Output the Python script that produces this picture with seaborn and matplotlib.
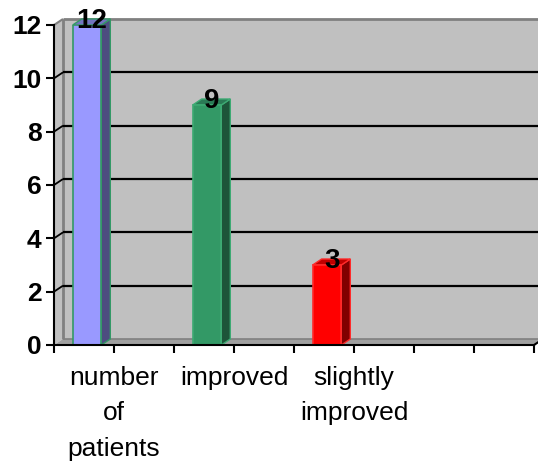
import numpy as np
import pandas as pd
import matplotlib
matplotlib.use("Agg")
import matplotlib.pyplot as plt
import matplotlib.transforms as mtransforms
from matplotlib.patches import Polygon
from matplotlib.lines import Line2D
import seaborn as sns

# --- data -------------------------------------------------------------
categories = ["number\nof\npatients", "improved", "slightly\nimproved"]
patients = [12, 9, 3]
series = ["outcome", "outcome", "outcome"]
y_ticks = [0, 2, 4, 6, 8, 10, 12]

# --- colours per bar: front, side, top, outline -------------------------
front_colors = ["#9999FF", "#339966", "#FF0000"]
side_colors = ["#4D4D80", "#1D5539", "#800000"]
top_colors = ["#7373C0", "#2A7A55", "#C00000"]
edge_colors = ["#339966", "#3DAA73", "#FF2A2A"]

WALL = "#C0C0C0"
WALL_EDGE = "#808080"
FLOOR = "#A0A0A0"
DEPTH = (9, 6)  # pixel offset of the back plane

sns.set_style("ticks")
plt.rcParams["font.family"] = ["Liberation Sans", "DejaVu Sans"]
plt.rcParams["text.color"] = "black"
plt.rcParams["xtick.color"] = "black"
plt.rcParams["ytick.color"] = "black"
plt.rcParams["xtick.labelcolor"] = "black"
plt.rcParams["ytick.labelcolor"] = "black"

fig = plt.figure(figsize=(5.38, 4.68), dpi=100)
ax = fig.add_axes([54 / 538, 123 / 468, 480 / 538, 320 / 468])
ax.set_facecolor("none")

df = pd.DataFrame({"status": categories, "patients": patients, "series": series})
sns.barplot(data=df, x="status", y="patients", hue="series",
            hue_order=["outcome", "spare"], dodge=True, width=0.9, gap=0.47,
            errorbar=None, saturation=1, legend=False, ax=ax)
bars = sorted(ax.patches, key=lambda p: p.get_x())

ax.set_xlim(-0.5, 3.5)
ax.set_ylim(0, 12)
ax.set_xlabel("")
ax.set_ylabel("")

dx, dy = DEPTH
ident = mtransforms.IdentityTransform()


def px(x, y, back=False):
    X, Y = ax.transData.transform((x, y))
    return (X + dx, Y + dy) if back else (X, Y)


def poly(pts, fc, z, ec="none", lw=0):
    ax.add_patch(Polygon(pts, closed=True, facecolor=fc, edgecolor=ec,
                         linewidth=lw, transform=ident, clip_on=False, zorder=z))


def seg(p, q, color, lw, z):
    ax.add_line(Line2D([p[0], q[0]], [p[1], q[1]], color=color, lw=lw,
                       transform=ident, clip_on=False, zorder=z,
                       solid_capstyle="butt"))


x0, x1 = -0.5, 3.5
ytop = y_ticks[-1]

# back wall, side wall and floor
poly([px(x0, 0, True), px(x1, 0, True), px(x1, ytop, True), px(x0, ytop, True)], WALL, 0.1)
poly([px(x0, 0), px(x0, ytop), px(x0, ytop, True), px(x0, 0, True)], WALL, 0.1)
poly([px(x0, 0), px(x1, 0), px(x1, 0, True), px(x0, 0, True)], FLOOR, 0.2)
seg(px(x0, 0, True), px(x1, 0, True), WALL_EDGE, 1.2, 0.3)
seg(px(x0, ytop, True), px(x1 + 0.2, ytop, True), WALL_EDGE, 2.0, 0.3)
seg(px(x0, 0, True), px(x0, ytop, True), WALL_EDGE, 2.0, 0.3)
seg(px(x0, ytop), px(x0, ytop, True), WALL_EDGE, 1.5, 0.3)
seg(px(x1, 0), px(x1, 0, True), "black", 1.5, 0.3)

# gridlines on the back wall and the side wall
for yv in y_ticks[1:-1]:
    seg(px(x0, yv, True), px(x1 + 0.2, yv, True), "black", 1.6, 0.5)
    seg(px(x0, yv), px(x0, yv, True), "black", 1.3, 0.5)

# 3-D bars: front face from seaborn, then side and top faces
for i, p in enumerate(bars):
    xl = p.get_x()
    xr = xl + p.get_width()
    h = p.get_height()
    p.set_facecolor(front_colors[i])
    p.set_edgecolor(edge_colors[i])
    p.set_linewidth(1.2)
    p.set_zorder(3)
    poly([px(xr, 0), px(xr, h), px(xr, h, True), px(xr, 0, True)],
         side_colors[i], 2.9, ec=edge_colors[i], lw=1.0)
    poly([px(xl, h), px(xr, h), px(xr, h, True), px(xl, h, True)],
         top_colors[i], 2.9, ec=edge_colors[i], lw=1.0)
    ax.annotate(f"{patients[i]}", xy=(xl + p.get_width() / 2, h),
                xytext=(5, -3), textcoords="offset pixels",
                ha="center", va="baseline", fontsize=20, fontweight="bold",
                color="black", zorder=5, annotation_clip=False)

# axes, ticks and labels
ax.set_yticks(y_ticks)
ax.set_yticklabels([str(v) for v in y_ticks], fontsize=19, fontweight="bold")
ax.set_xticks(np.arange(-0.5, 3.6, 1.0), minor=True)
ax.set_xticks(range(len(categories) + 1))
ax.set_xticklabels(categories + [""], fontsize=19, linespacing=1.6)
ax.tick_params(axis="both", which="both", direction="out", length=6,
               width=1.5, color="black")
ax.tick_params(axis="x", which="major", pad=9)
ax.tick_params(axis="y", pad=3)
for side in ("top", "right"):
    ax.spines[side].set_visible(False)
for side in ("left", "bottom"):
    ax.spines[side].set_color("black")
    ax.spines[side].set_linewidth(1.5)
    ax.spines[side].set_zorder(4)

fig.savefig("out.png", dpi=100, facecolor="white")
